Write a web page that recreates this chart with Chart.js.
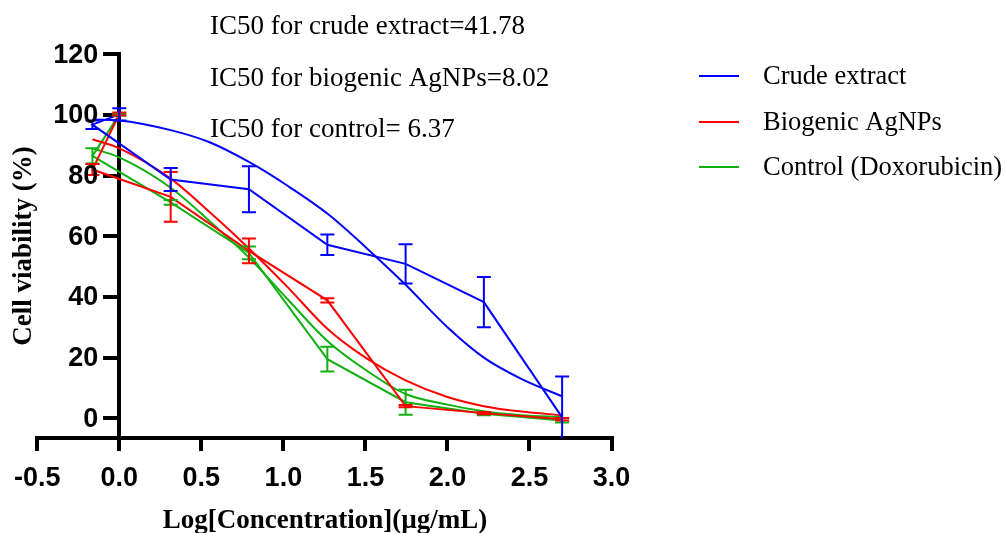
<!DOCTYPE html>
<html>
<head>
<meta charset="utf-8">
<script src="https://cdn.jsdelivr.net/npm/chart.js@4"></script>
<style>
  html, body { margin: 0; padding: 0; background: #fff; }
</style>
</head>
<body>
<canvas id="myChart" width="1005" height="533"></canvas>
<script>
const ctx = document.getElementById('myChart');

// log10 of concentration, in the order the points were entered
const logConc = [0, -0.164, 0.313, 0.790, 1.268, 1.745, 2.222, 2.699];

const crudeMean = [100.2, 96.8, 78.7, 75.5, 57.2, 50.9, 38.3, 0.3];
const crudeSd   = [2.0, 1.4, 3.8, 7.6, 3.4, 6.5, 8.3, 13.5];
const agMean    = [100.3, 82.0, 73.0, 55.2, 38.9, 4.0, 1.7, -0.3];
const agSd      = [0.5, 1.8, 8.2, 4.1, 0.7, 0.4, 0.4, 0.4];
const doxMean   = [100.1, 86.5, 71.2, 54.5, 19.5, 5.3, 1.5, -0.7];
const doxSd     = [0.3, 2.5, 0.8, 2.1, 4.1, 4.1, 0.5, 0.7];

// fitted curves
const fitX     = [-0.164, 0, 0.313, 0.55, 0.79, 1.03, 1.268, 1.5, 1.745, 2.0, 2.222, 2.45, 2.699];
const crudeFit = [98.5, 98.2, 95, 91, 84.5, 76.5, 67.5, 56.5, 44, 30, 20, 13, 7.2];
const agFit    = [92, 89, 79, 68, 56, 43, 29.5, 20, 12.5, 7, 4, 2.2, 1];
const doxFit   = [89, 86, 76, 65, 53, 39, 25.5, 16, 8, 4.5, 2.3, 1, 0.4];

const xTicks = [-0.5, 0, 0.5, 1, 1.5, 2, 2.5, 3];
const yTicks = [0, 20, 40, 60, 80, 100, 120];

const seriesNames = ["Crude extract", "Biogenic AgNPs", "Control (Doxorubicin)"];
const seriesColors = ['rgb(0, 0, 255)', 'rgb(255, 0, 0)', 'rgb(16, 176, 16)'];
const ic50Notes = ["IC50 for crude extract=41.78", "IC50 for biogenic AgNPs=8.02", "IC50 for control= 6.37"];

const xTitle = "Log[Concentration](\u00b5g/mL)";
const yTitle = "Cell viability (%)";

function toPoints(xs, ys){
    return xs.map((x, i) => ({x: x, y: ys[i]}));
}

const means = [crudeMean, agMean, doxMean];
const sds = [crudeSd, agSd, doxSd];
const fits = [crudeFit, agFit, doxFit];

let datasets = [];
for(let i = 0; i < 3; i++){
    datasets.push({
        label: seriesNames[i],
        data: toPoints(logConc, means[i]),
        sd: sds[i],
        borderColor: seriesColors[i],
        backgroundColor: seriesColors[i],
        borderWidth: 2,
        tension: 0,
        pointRadius: 0
    });
    datasets.push({
        label: seriesNames[i] + " fit",
        data: toPoints(fitX, fits[i]),
        borderColor: seriesColors[i],
        backgroundColor: seriesColors[i],
        borderWidth: 2,
        cubicInterpolationMode: 'monotone',
        pointRadius: 0
    });
}

const axisFont = { family: 'Liberation Sans', size: 27, weight: 'bold' };

const extras = {
    id: 'extras',
    afterDatasetsDraw(chart){
        const c = chart.ctx;
        const area = chart.chartArea;
        const xs = chart.scales.x, ys = chart.scales.y;
        c.save();
        c.beginPath();
        c.rect(area.left, area.top, area.right - area.left, area.bottom - area.top);
        c.clip();
        c.lineWidth = 2;
        for(const i of [4, 2, 0]){
            const ds = chart.data.datasets[i];
            c.strokeStyle = ds.borderColor;
            ds.data.forEach((p, k) => {
                const px = xs.getPixelForValue(p.x);
                const top = ys.getPixelForValue(p.y + ds.sd[k]);
                const bot = ys.getPixelForValue(p.y - ds.sd[k]);
                c.beginPath();
                c.moveTo(px, top); c.lineTo(px, bot);
                c.moveTo(px - 7, top); c.lineTo(px + 7, top);
                c.moveTo(px - 7, bot); c.lineTo(px + 7, bot);
                c.stroke();
            });
        }
        c.restore();
    },
    afterDraw(chart){
        const c = chart.ctx;
        const xs = chart.scales.x, ys = chart.scales.y;
        c.save();
        c.fillStyle = '#000';

        // y tick labels, right of them sits the tick mark
        c.font = 'bold 27px "Liberation Sans"';
        c.textAlign = 'right';
        c.textBaseline = 'middle';
        const labelRight = xs.getPixelForValue(0) - 21;
        yTicks.forEach(v => c.fillText(String(v), labelRight, ys.getPixelForValue(v) + 1));

        // axis titles
        c.font = 'bold 27px "Liberation Serif"';
        c.textAlign = 'center';
        c.textBaseline = 'alphabetic';
        c.fillText(xTitle, 325, 528);
        c.save();
        c.translate(24, 246);
        c.rotate(-Math.PI / 2);
        c.textBaseline = 'middle';
        c.fillText(yTitle, 0, 0);
        c.restore();

        // IC50 notes
        c.font = '27px "Liberation Serif"';
        c.textAlign = 'left';
        c.textBaseline = 'alphabetic';
        const noteY = [34, 86, 137];
        ic50Notes.forEach((t, i) => c.fillText(t, 210, noteY[i]));

        // legend
        c.font = '26.5px "Liberation Serif"';
        const legY = [76, 122, 167];
        seriesNames.forEach((t, i) => {
            c.strokeStyle = seriesColors[i];
            c.lineWidth = 2;
            c.beginPath();
            c.moveTo(699, legY[i]); c.lineTo(739, legY[i]);
            c.stroke();
            c.textBaseline = 'middle';
            c.fillText(t, 763, legY[i] + 1);
        });
        c.restore();
    }
};

var dataChart = new Chart(ctx, {
    type: 'line',
    data: { datasets: datasets },
    plugins: [extras],
    options: {
        responsive: false,
        devicePixelRatio: 1,
        animation: false,
        layout: { padding: { left: 37.3, right: 393.5, top: 54.3, bottom: 0 } },
        plugins: {
            legend: { display: false },
            tooltip: { enabled: false }
        },
        scales: {
            x: {
                type: 'linear',
                min: -0.5,
                max: 3,
                afterBuildTicks: s => { s.ticks = xTicks.map(v => ({value: v})); },
                afterFit: s => { s.height = 95; },
                ticks: {
                    font: axisFont,
                    color: '#000',
                    padding: 11,
                    maxRotation: 0,
                    autoSkip: false,
                    callback: v => v.toFixed(1)
                },
                grid: { drawOnChartArea: false, tickLength: 13, lineWidth: 4, color: '#000' },
                border: { width: 4, color: '#000' }
            },
            y: {
                type: 'linear',
                min: -6.5,
                max: 120,
                position: { x: 0 },
                afterBuildTicks: s => { s.ticks = yTicks.map(v => ({value: v})); },
                ticks: { display: false },
                grid: { drawOnChartArea: false, tickLength: 14, lineWidth: 4, color: '#000' },
                border: { width: 4, color: '#000' }
            }
        }
    }
});
</script>
</body>
</html>
